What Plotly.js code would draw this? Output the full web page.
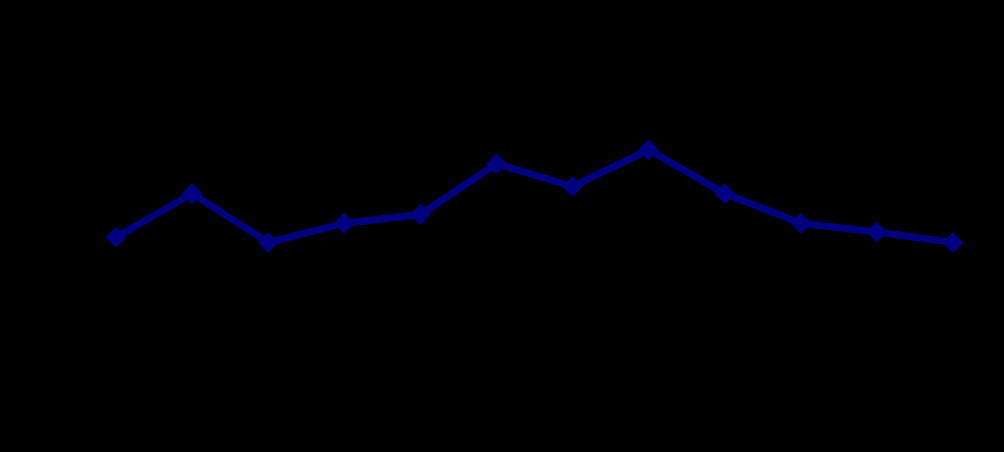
<!DOCTYPE html>
<html>
<head>
<meta charset="utf-8">
<script src="https://cdn.plot.ly/plotly-3.0.1.min.js"></script>
<style>
  html, body { margin: 0; padding: 0; background: #000; }
  #chart { width: 1004px; height: 452px; }
</style>
</head>
<body>
<div id="chart"></div>
<script>
// Twelve monthly points, single series
const months = ['Jan', 'Feb', 'Mar', 'Apr', 'May', 'Jun', 'Jul', 'Aug', 'Sep', 'Oct', 'Nov', 'Dec'];
const values = [46.5, 59, 45, 50.5, 53, 67.5, 61, 71.5, 59, 50.5, 48, 45];

const trace = {
  type: 'scatter', mode: 'lines+markers',
  x: months,
  y: values,
  line: { color: '#000080', width: 7 },
  marker: { symbol: 'diamond', size: 16, color: '#000080' },
  showlegend: false,
};

const layout = {
  width: 1004, height: 452,
  margin: { l: 78, r: 13, t: 50, b: 52 },
  paper_bgcolor: '#000',
  plot_bgcolor: '#000',
  font: { family: 'Liberation Sans, Arial, sans-serif', color: '#000', size: 12 },
  xaxis: {
    type: 'category', range: [-0.5, 11.5],
    showgrid: false, zeroline: false, showline: false,
    tickfont: { color: '#000' },
  },
  yaxis: {
    range: [0, 100],
    showgrid: false, zeroline: false, showline: false,
    tickfont: { color: '#000' },
  },
};

Plotly.newPlot('chart', [trace], layout, { displayModeBar: false, staticPlot: true });
</script>
</body>
</html>
